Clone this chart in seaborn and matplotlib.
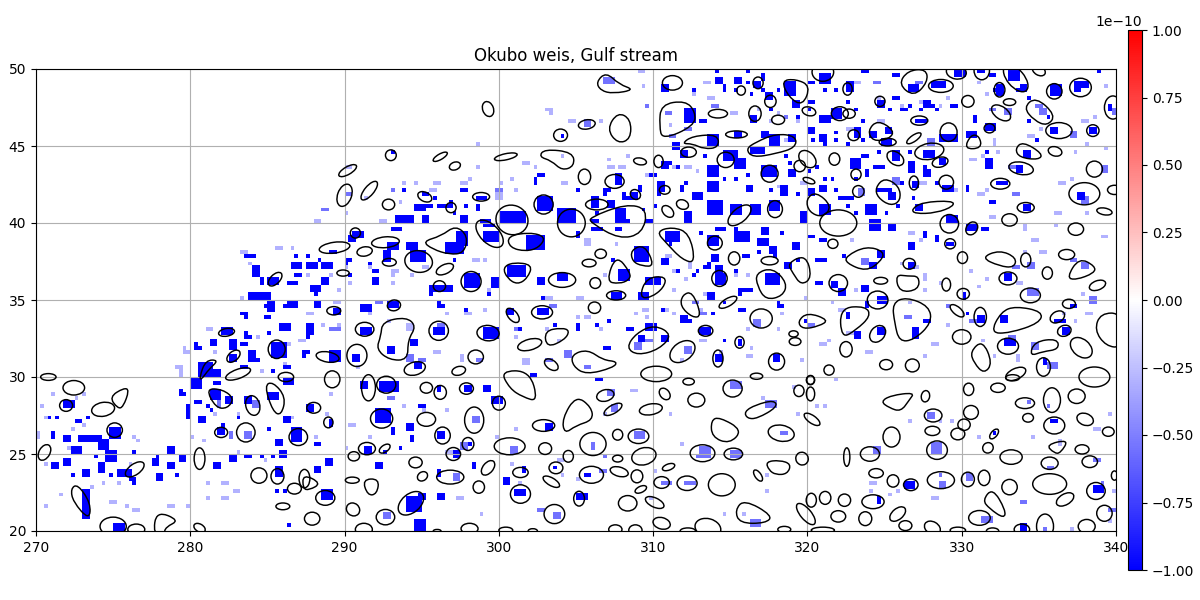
import numpy as np
import pandas as pd
import matplotlib
matplotlib.use("Agg")
import matplotlib.pyplot as plt
from matplotlib.patches import Ellipse, PathPatch
from matplotlib.path import Path
from matplotlib.transforms import Affine2D
import seaborn as sns

TITLE = "Okubo weis, Gulf stream"
LON_TICKS = [270, 280, 290, 300, 310, 320, 330, 340]
LAT_TICKS = [20, 25, 30, 35, 40, 45, 50]
LON_MIN, LON_MAX, LAT_MIN, LAT_MAX = 270, 340, 20, 50
CELLS_PER_DEGREE = 4
WEISS_SCALE = 1e-10

# Okubo-Weiss levels of the three classes of negative cells (units of 1e-10)
STRONG_LEVEL = -1.0
MEDIUM_LEVEL = -0.55
WEAK_LEVEL = -0.3

# Cell blocks: west edge, south edge, columns, rows
strong_blocks = [
    # Labrador side, 45N-50N
    (310.5,48.6,2,2),(314,49,2,2),(315.25,49,2,2),(314.6,48.6,1,2),(316,49.7,1,1),(317,49.3,1,2),(316.5,48.7,2,2),
    (318.5,48.2,3,4),(319,47.6,2,2),(320.7,49,3,3),(320,49,2,1),(320.1,47.8,2,1),(312,46.5,3,4),(316.25,46.6,2,2),
    (317.25,47.9,2,2),(313,46.4,2,1),(320,45.8,2,2),(320.75,45.3,2,2),(320.75,46.5,3,2),(321.6,46.8,3,3),
    (323.5,49.7,2,1),(325.5,49.6,2,1),(326.5,48.5,3,2),(328.1,48.7,4,2),(329.4,49.5,3,2),(331,49.7,2,1),(331.8,49.4,2,1),
    (333,49.2,3,3),(332.2,48.3,2,3),(333.8,48.4,2,2),(335.75,48.2,3,3),(337.2,48.4,2,3),(337.7,48.7,2,2),(322.5,48.4,2,3),
    (324.5,47.6,2,2),(325.5,47.9,2,1),(327.6,47.5,2,2),(326,47.3,2,1),(329.3,47.5,2,1),(326.9,46.5,3,1),(325,45.8,2,2),
    (324.1,45.5,2,2),(322.9,45.4,2,3),(328.5,45.3,5,2),(330.7,46.4,1,2),(331.5,45.9,3,2),(330.25,45.6,3,2),(324.75,45.1,3,2),
    (335.75,45.8,2,2),(338.25,45.7,2,2),(339.4,47.2,1,2),(292.9,44.5,1,1),(304,45.5,1,1),
    # 40N-45N
    (313.5,45,3,3),(311.25,44.7,2,2),(315.25,45.4,2,2),(317,45.5,2,2),(317.5,44.9,3,3),(316.25,44.5,4,2),(318.8,45.2,2,2),
    (314.4,43.9,4,3),(311.8,44.3,2,2),(310.6,43.6,2,2),(309.75,43,2,1),(313.5,43.1,3,3),(315.25,43.4,3,3),(317.1,42.9,4,3),
    (318.7,42.9,2,2),(313.5,42,3,3),(316,42.1,2,2),(318.2,41.8,2,3),(312.5,41.6,3,2),(310.3,42.1,2,3),(311.7,42.1,1,2),
    (309,41.9,1,2),(308,41.4,1,2),(306.75,41.7,1,2),(307,41.1,2,2),(306,41,2,3),(308.5,41.6,2,2),(307.6,40.3,3,3),
    (313.5,40.4,4,4),(316.25,40.4,3,3),(315,40.4,3,3),(317.5,40.7,3,3),(319.4,40,2,3),(320,41.8,2,2),(320.75,42,2,2),
    (320.75,40.5,3,3),(321.9,41.4,3,1),(307.6,42.4,2,3),(307.4,40,4,1),(306,40,2,1),(309.4,40,2,1),(312,40,2,3),
    (327.4,44.2,3,2),(325.5,43.9,2,3),(322.8,43.6,3,3),(323.5,44.3,2,1),(326.5,43.2,2,3),(324.25,43.4,3,1),(323.75,43,1,2),
    (327.5,43.1,2,2),(328.5,43.7,2,2),(326.7,42.3,2,2),(328.7,42.1,3,2),(324.6,42,4,1),(325.3,41.5,2,2),(331.5,43.5,2,3),
    (333.5,43.3,2,2),(334,44.3,2,2),(332.3,42.6,3,1),(326.9,40.8,2,2),(323.7,40.5,3,3),(334,40.7,2,2),(331.8,41.2,1,1),
    (337.4,41.6,2,2),(329,40,3,2),(330.2,42,1,2),
    (302.6,43,2,1),(302.25,42.4,1,2),(295,41.7,2,1),(297.4,41.9,2,1),(295.75,41.4,1,1),(298.5,41.6,3,1),(294.5,40.8,3,2),
    (295.25,40.9,1,1),(296,40.9,3,1),(296.75,41,1,2),(297.75,41,1,1),(298.6,40.7,1,1),(300,40,7,3),(302.5,40.75,4,4),
    (303.75,40,5,4),(293.25,40,5,2),(295,40,2,2),(297.5,40,2,2),(298.8,40,3,1),
    # 35N-40N
    (290.4,38.9,3,2),(290.2,38.7,2,2),(292.7,38.3,3,2),(294,38.2,3,2),(289,38,2,1),(292.6,37.5,2,3),(294.3,37.5,4,3),
    (290.1,37.3,1,2),(288.5,36.9,3,2),(287.5,36.9,3,2),(291.7,36.8,2,1),(296.6,38,5,3),(297.2,38.5,3,4),(299,39.7,3,1),
    (299,38.7,4,3),(301.7,38.3,5,4),(300.4,36.5,5,3),(295.5,35.6,6,2),(297.7,35.8,4,4),(299.5,35.7,2,3),(302.5,36,2,2),
    (303.8,36.2,3,2),(288.5,36,2,2),(287.8,35.6,3,2),(291.8,36,2,2),(292.9,39.5,3,1),
    (310.8,38.8,4,3),(306.1,39.5,3,1),(307.6,39.5,2,1),(314.1,39.5,3,1),(317,39.3,2,2),(315.25,38.7,4,3),(313.5,38.5,3,3),
    (316.75,38.6,3,2),(308.7,37.4,4,4),(305,39,1,2),(319,38.3,2,2),(320.1,39.1,2,1),(320.75,38.7,2,1),(313.75,37.6,2,2),
    (315.8,37.7,2,1),(317.5,37.9,2,2),(310.5,37.3,2,2),(318.6,37,2,2),(320.5,37.6,2,1),(307.7,36.2,3,3),(313.25,37,2,1),
    (314,36.4,2,3),(314,36,3,3),(317.25,36,4,3),(309.5,35.9,4,2),(309,35.1,3,2),(307.3,35.1,3,2),(321.4,35.8,2,2),
    (322,35.2,2,2),(313.5,35,2,2),(316.1,35.4,2,1),(315.6,35.2,1,2),(320.6,35.9,2,1),
    (324,39.4,3,3),(325.2,39.5,2,2),(330.25,39.4,3,2),(331.25,39.6,2,1),(328.2,38.7,1,2),(327.5,39.1,1,2),(326.5,38.3,2,2),
    (329,38.5,2,1),(324.5,37.8,2,2),(324,37,2,2),(326.5,37.1,2,2),(323.5,35.4,2,2),(332.7,36.3,2,2),(330,35.1,1,2),
    (283.5,37.7,3,1),(284,36.6,2,3),(284.5,35.9,1,2),(285.1,36,3,2),(286.3,36,3,1),(286.75,36.4,2,1),(286.5,37,3,2),
    (283.75,35,6,2),(285,34.2,2,3),(286.3,34.5,3,2),
    # 30N-35N
    (283.25,33.9,2,1),(284.8,33.8,2,1),(285.75,33.1,3,2),(282,32.7,3,2),(283.6,32.6,2,1),(282.4,31.7,2,3),(281.25,32,2,2),
    (283.2,32,2,1),(280.25,31.8,2,1),(285.2,31.2,4,4),(283.8,31,2,3),(282.5,31,2,2),(280.6,30,4,4),(283.2,30.6,2,1),
    (281.4,30,2,2),(286.1,30.5,2,1),(287.3,31.2,1,2),
    (288,34.5,2,2),(289.3,34,2,2),(287.5,32.8,2,3),(289,30.9,3,3),(290.4,31,2,2),(291,34.3,3,2),(292.8,34.6,3,2),
    (296.1,34.6,2,1),(291,32.8,3,2),(295.75,32.7,3,2),(298.9,32.4,4,3),(302.4,33.9,3,2),(300.6,34,2,2),(292.8,31.6,2,2),
    (294.3,32,2,2),(294.6,30.5,2,2),
    (311.7,33.4,2,2),(305,33,1,2),(309.4,32.9,3,2),(308.3,32.9,2,1),(310.5,32.2,2,2),(309,32.3,2,2),(313,32.7,3,2),
    (319.8,33.5,1,1),(313.9,30.9,2,2),(317.75,30.9,2,2),(315.5,32,1,2),(306.7,31.7,2,1),(315.6,34.2,2,1),(318,34.5,2,1),
    (324.5,34.8,3,2),(322.5,33.7,1,2),(323.7,34.4,1,2),(327.5,33.5,2,1),(326.8,32.5,2,3),(324.5,32.8,2,2),(323,32.4,2,2),
    (330.2,34,1,1),(331,33.6,2,2),(332.5,33.5,2,2),(335.9,33.6,3,1),(336.4,32.8,2,2),(332.8,31.9,3,2),(336.9,34.6,2,1),
    (335.2,30.8,1,2),
    # South of 30N
    (280,29.3,3,3),(281.6,29.6,2,1),(279.3,28.8,2,1),(285.9,29.6,3,2),(285.1,28.6,3,2),(281.3,28.4,3,3),(282.3,28.3,2,2),
    (283.6,28.3,2,2),(280.2,28.3,2,1),(279.7,27.2,1,4),(281,27.9,1,1),(271.7,27.9,3,2),(286,26.9,2,2),(280.6,26.9,2,2),
    (272.4,27.1,1,1),(274.75,26,3,3),(270.9,26,1,2),(271.7,25.7,2,2),(272.7,25.8,6,2),(274.1,25.3,3,3),(272.3,25,3,2),
    (274.5,24.5,3,3),(271.75,24.2,2,2),(277.6,24.2,2,2),(278.4,25,2,2),(271,24,2,2),(279.3,24.5,2,2),(278.6,24,2,2),
    (274,23.7,2,3),(273,23.5,2,2),(275.3,23.5,4,2),(276,23.2,2,1),(277.8,23.3,2,2),(273,20.7,2,8),(275,20,3,2),
    (285.4,25.6,2,2),(286.6,25.8,3,4),(282.5,24.5,2,2),(281.4,24,2,2),(285.8,24.8,2,2),(285.6,23.4,2,3),(281.8,26.2,2,2),
    (292.2,29,5,3),(291,29.3,2,2),(297.7,29,2,2),(299,29,2,2),(299.5,28.3,3,2),(296,28.9,1,2),(294.75,28,2,1),(287.6,27.7,2,2),
    (292,26.9,4,4),(288.9,26.8,1,2),(294,26.5,2,2),(293,26.3,1,2),(294.3,25.8,1,2),(296,25.9,2,2),(303,26.6,2,2),(288,25.5,2,1),
    (291.25,25,2,2),(292.5,25,1,1),(297.9,25.4,1,1),(293.6,25.2,1,1),(296.9,24.8,2,2),(288.8,24.3,2,2),(288,23.7,2,2),
    (292,24,2,2),(296.1,23.4,1,2),(301.5,23.7,1,2),(298.25,24,1,2),(296.1,22,2,2),(300.25,22.9,2,2),(301,22.2,3,2),
    (303.5,23.9,1,1),(288.5,21.9,3,3),(294,21.2,4,4),(294.8,22,2,2),(294.5,20.1,3,3),(302,29.9,2,1),
    (305,21.9,3,2),(306.25,29.8,2,1),(305.5,23.4,2,1),(326.3,22.7,3,2),(324.5,21.8,1,2),(335.75,26.9,2,1),(338.6,22.4,3,2),
    (333.8,20,2,2),(332,26.2,1,1),
]
# Isolated strong cells: lon, lat
strong_singles = [
    (314.07,49.8),(315.9,49.1),(317,48.4),(318,48.4),(315.15,48.5),(314.5,48.4),(312.55,48.4),(316.25,48.15),(317.55,47.2),
    (319.15,46.65),(319.9,47.2),(321.1,48.4),(321.65,48.4),(320.2,45.15),(321.75,45.8),(321.85,45.15),(321,44.9),(318.4,44.15),
    (318.8,43.7),(316,43),(314.4,42.85),(315.15,42.75),(313.2,44.25),(311.4,43.4),(310.95,43.7),(312,42.4),(310.3,41.8),(310.1,41.1),
    (313.85,40.6),(317.6,41.9),(319.35,41.75),(321.6,42.85),(321.1,42.85),(320.45,43.5),(320.1,43.3),(321.65,42),(305.1,41.9),
    (306.95,41.9),(308.15,41.45),(309.2,40.8),(306.3,40.5),
    (323.6,49.75),(322.95,47.2),(322.6,47.85),(323.5,46.45),(325.3,47.2),(326.4,47.4),(327.15,47.3),(327.9,47.6),(328.35,47.2),
    (330.7,46.65),(332,48.4),(333.5,48.4),(334.15,47.95),(334.15,46.55),(334.7,45.35),(335.45,46.65),(323.5,45.25),(322.6,44.9),
    (324.55,44.5),(323.8,44.25),(326.5,44.5),(327.6,43.4),(322.95,42.65),(323.7,43),(326.7,41.55),(326.05,42.4),(328.35,42.4),
    (328.85,41.9),(332,41.35),(325.65,40.9),(325.1,40.5),(331.55,44.5),(331.55,44.05),(331.45,43.6),(322.8,41.45),(322.6,40.9),
    (323.05,40.5),(338.7,49.7),
    (315.25,39.55),(313.1,39.25),(315.15,38.9),(318.2,39.15),(316.65,38.05),(317.75,37.75),(315.35,36.75),(310.95,38.4),(307.25,37.5),
    (312.55,36.45),(313.55,37.3),(311.5,36.85),(312.8,36.65),(319.35,37.4),(320.9,37.6),(322.3,37.75),(315.7,35.45),(316.35,35.45),
    (318,34.8),(318.3,34.6),(310.4,34.15),(312.15,33.5),(313.65,34.05),(314.5,34.7),(314.6,32.2),(305.1,33.3),(306.3,33.2),(306.95,33.6),
    (288.05,35.15),(288.25,37.6),(287.6,37.2),(291.4,37.2),(290.2,36.45),(295.4,35.15),(299.15,35.15),(296.05,34.8),(297.85,34.15),
    (303.4,33.3),(301.3,33.05),(287.6,32.55),(287.5,31.55),(302.75,34.9),(297,37.6),(290.3,37.6),(288.15,35.65),
    (284.7,34.4),(285.9,34.4),(286.65,34.5),(287.4,37.85),(286.65,37.85),(284.05,37.85),(283.6,32.65),(285.1,32.65),(285.35,30.35),
    (284.35,31.1),(287.3,31.35),(283.6,33.7),(280.35,31.9),
    (279.3,29),(271.3,27.35),(273.35,27.3),(270.65,27.2),(272.8,27.1),(273.65,24.8),(276.25,24.9),(277.8,24.8),(274.65,23.6),(279.05,23.6),
    (276.25,23.05),(272.15,23.4),(281.9,26.75),(281.35,27.85),(283,27.3),(284.9,26.5),(283.8,24.8),(283.5,24.8),(284.45,24.8),(285.35,24.8),
    (285.55,22.4),(285.9,22.4),(286.3,20.35),
    (293.65,41.9),(295.8,41.4),(295.4,40.9),(296.9,40.5),(297.65,40.9),(298.6,41.1),
]
medium_blocks = [
    (293,42.1,1,1),(290,41.7,2,1),(288.6,40.8,2,1),(306.8,49,3,2),(305.6,46.2,2,2),(311,45.5,2,1),(310.8,47,2,1),(312,46,2,1),
    (313.7,47.6,2,1),(318.6,46.8,1,1),(324.2,49,2,1),(327,49,2,1),(331.7,47.2,2,1),(332.7,46.9,2,2),(335,46.9,2,2),(334.7,47.5,2,1),
    (339.7,46.9,2,2),(337,45.6,2,2),(333,43.5,2,1),(339,43.3,2,2),(333.2,41.7,2,1),(337.7,41.3,2,2),(325.5,42.5,2,2),(323.2,41.7,2,2),
    (327.7,45.1,2,2),(294,31,2,2),(303,31,2,1),(304.3,31.3,2,2),(305.4,30.5,2,1),(299.7,42,2,1),(309.5,47.6,1,1),
    (291.9,34.7,2,1),(289,33,3,1),(296.1,33.2,2,1),(294.8,30.9,2,1),(303.3,34.6,2,1),(301.1,33,2,1),(298.6,31,2,1),
    (313,34,2,1),(312.6,34.8,2,1),(309.5,32.2,2,1),(308.8,31.8,2,2),(311.9,31.6,2,2),(316.6,33.3,2,2),(320,33.3,2,1),
    (323.6,37.3,2,2),(324,36.9,2,1),(328.9,34.5,1,1),(326.2,33.7,2,1),(330.6,33.4,2,1),(334.6,31.8,2,2),(333,32.5,2,1),
    (333.3,37.1,2,1),(334.2,37.1,2,2),(337,37.6,2,1),(337.8,37.1,2,2),(334.3,35.2,3,2),(338.2,34.7,2,2),(335.4,30.5,3,2),
    (292.7,28.5,2,1),(300.8,25,2,2),(298.2,27,2,2),(297.5,25.2,2,2),(302.4,21.2,2,1),(303.5,20.8,2,2),(292.5,20.7,2,2),
    (293.9,21.6,2,1),(297,23.3,2,2),(281.7,28,1,2),(284,27.9,2,2),(283.4,26.1,2,2),(282.4,26.1,1,2),
    (306.9,28.8,2,2),(307.3,27.8,2,2),(306.7,24.8,1,1),(308.8,26.1,3,2),(305.9,25.2,1,2),(306.6,23.7,2,1),(315,29.2,3,2),
    (317.3,28.1,3,2),(313,25,3,2),(312.7,24.8,4,1),(315,24.8,3,2),(311.9,23,3,1),(310.4,23.1,3,1),(316.3,20.2,3,2),(318.2,26.3,2,1),
    (324.2,25,2,2),(328,25,3,3),(327.8,27.2,2,2),(333.7,21.8,2,1),(331.2,20.6,3,2),(335.3,20.1,1,1),(336,26.9,1,1),(339,23,1,1),
    (335.5,28,1,1),(334.3,28.2,1,1),(330.3,23.2,2,2),(328.5,22.8,2,2),(328.6,23.5,1,1),(335.5,24.1,2,1),(338.4,24.4,2,1),(339.4,21.3,2,1),(331.3,20.6,3,1),
]
weak_blocks = [
    (302.95,47.3,2,1),(303.3,47.1,1,1),(304.5,46.6,2,1),(298.6,45,1,1),(298.6,43.6,1,1),(290,43.6,2,1),(301.6,43.8,2,1),
    (293.8,42.6,1,1),(294.6,42.4,1,1),(295.8,42.6,2,1),(297.6,42.6,2,1),(295.6,42.1,2,1),(298.1,42.8,1,1),(300.1,42.6,1,1),
    (300.8,42.8,1,1),(301.1,42.1,1,1),(299.7,41.4,2,2),(293.5,41.3,1,1),(289.9,40.6,1,1),(288,40,2,1),(292.3,40,2,1),(304.1,44.2,1,1),
    (304.1,42.6,2,1),(302.2,43.4,1,1),(291.2,41.6,1,1),(308.9,49.7,2,2),(309.2,48.8,1,1),(306.8,48.9,1,1),(306.4,46.6,1,1),
    (313.2,48.9,2,1),(312.5,48.3,1,1),(313.5,47.9,2,1),(310.9,46.2,1,1),(311.9,46.6,1,1),(315,47.1,2,1),(316.7,47.2,1,1),
    (318.6,45.3,1,1),(317.6,46.4,1,1),(318,47.1,1,1),(319.3,46.5,1,1),(320,46,1,1),(305,42,1,1),(307,43.9,1,1),(306.9,43.6,2,1),
    (307.8,43.6,2,1),(308.3,44.2,1,1),(309.5,43,1,1),(311.3,43.4,1,1),(311.9,43.5,2,1),(312.8,43.3,1,1),(318,42.3,1,1),(319.6,42.5,2,1),
    (323,49.1,2,1),(322.9,48.9,1,1),(324.5,48.1,1,1),(326,47.4,1,1),(327.3,47.7,1,1),(328.4,47.4,1,1),(329,47.9,1,1),(331,49,1,1),
    (331.5,48.2,1,1),(339.3,48.8,1,1),(338.5,46.8,1,1),(335,46.1,1,1),(337.7,46.5,2,1),(332,44.9,1,2),(332.3,44.5,1,1),(334.3,45.5,2,1),
    (338,44.9,1,1),(339.3,44.8,1,1),(337.2,44.5,1,1),(330.4,43.9,2,1),(331.2,44.3,1,1),(336.3,42.5,2,1),(337,42.7,1,1),(331.1,41.7,2,1),
    (331.5,42.1,1,1),(338,40.4,1,1),(336,40.4,2,1),(331.7,40.2,2,1),(327.2,42.5,2,1),(329.4,41.9,1,1),(322.6,45.9,2,1),(324.5,46.4,2,1),
    (283.3,37.9,2,1),(285.5,38.2,2,1),(286.6,38.2,1,1),(283.7,37.3,1,1),(283.2,35.1,1,1),(286,34.4,1,1),(281,33,2,1),(286.9,32.3,2,1),
    (284.3,32.5,1,1),(281.6,31.6,1,1),(279.5,31.4,1,2),(279.5,31.4,2,1),(279,30.5,2,1),(279.2,30,1,2),(284.5,30.2,1,1),(285.9,30.7,1,1),
    (289.3,34.7,2,1),(288.5,37.3,1,1),(287.5,36.6,1,1),(288.9,36.6,1,1),(289.6,35.6,1,1),(290.1,37,1,1),(290.2,36,1,1),(291.6,37.1,1,1),
    (293,36.6,1,1),(293.1,35.9,1,1),(292.9,36.8,2,1),(295,37,2,1),(294.2,36.6,1,1),(298.2,37.5,2,1),(299.1,37.6,1,1),(299.3,35.2,1,2),
    (303.1,34.9,2,1),(287.5,34,2,1),(288.4,33.3,1,1),(289.6,33.3,1,1),(291.4,34,1,1),(292.7,33.6,1,1),(293.9,32.9,2,2),(296.4,33.9,1,1),
    (297.7,34,2,1),(299,34.3,1,1),(303,33,1,1),(304.9,35.1,2,1),(305,33.8,1,1),(301.5,30.8,2,2),(303.7,32.2,1,1),(295.8,31.5,2,1),
    (297.5,31,1,2),(290.7,30.4,1,1),(286.2,31.9,1,1),(301,32.4,1,1),(305.6,38.4,2,2),(307.6,38.6,1,1),(310.8,37.8,2,1),(306.7,36.6,1,1),
    (312.2,37.1,1,2),(311.3,36.7,2,1),(312,36.3,1,1),(313.5,36.9,1,1),(315.3,36.4,1,2),(316,36.4,1,1),(316.2,35.4,1,1),(313.2,35.2,1,1),
    (311.2,35.6,1,1),(313,33.9,1,2),(311.2,34,1,1),(310.7,34.3,1,1),(308.7,34,1,1),(309.3,34.2,2,1),(309.5,33.7,1,1),(306.6,33.1,1,1),
    (305.4,33.7,2,1),(318.3,34.1,1,1),(318.1,33.1,1,1),(319.8,35,1,1),(321.4,34.8,1,1),(322,34.3,2,1),(322.5,32.7,2,1),(321.2,32.3,1,1),
    (320.7,32.1,2,1),(316,32.9,1,1),(316.2,31.7,1,1),(313,32.2,2,1),(314.3,31.6,1,1),(311.8,30.9,1,1),(316.1,31.3,2,1),(319.4,31.1,1,1),
    (326.6,39.3,2,1),(327.3,38.7,1,1),(322.7,38.7,1,1),(327.1,37,1,1),(325.9,37.2,1,1),(327.6,36.3,1,2),(328.4,36.1,1,1),(330.4,36.8,1,1),
    (331.4,36.2,1,1),(331.1,35.8,1,1),(333.4,35.9,2,1),(333.9,39.4,1,2),(334.4,38.8,2,1),(335,38.1,2,1),(334,37.9,1,1),(336,39.8,1,1),
    (339,38.9,2,1),(337.7,35.3,1,1),(338.1,34.1,2,1),(336.5,34,1,1),(337.2,33.6,1,1),(329,33.2,1,1),(328.1,31.9,2,1),(327.5,31.2,1,1),
    (323.7,31.6,2,1),(333.5,30.9,1,2),(332,31.3,1,1),(331.3,32.3,1,1),(326.6,34.7,1,1),(323,35.4,1,1),(327.5,35.6,1,1),
    (270.3,28,1,1),(270.9,28.7,1,1),(270.5,27.3,1,1),(272.4,28.5,1,1),(273,28.7,1,1),(272.3,26.6,1,1),(273.1,26.8,1,1),(270,26,1,2),
    (276.2,25.9,1,1),(276.4,25.7,1,1),(272,25.2,1,1),(270.5,24.3,1,1),(276,24.2,1,1),(274.2,22.9,1,1),(275.2,23,1,1),(273.5,22.8,1,1),
    (270.5,21.5,1,1),(271.4,22.2,1,1),(274.7,21.8,2,1),(275.7,21.6,1,1),(278.4,21.5,2,1),(276.2,21.3,2,1),(279.7,21.6,1,1),
    (280.9,22.9,1,1),(281.9,23.1,2,1),(282.1,22.1,2,1),(281,21.9,1,1),(282.8,22.5,2,1),(280,26.1,1,1),(280.7,25.8,1,1),(283,24.9,1,1),
    (284.8,24.6,1,1),(286.6,27.3,1,1),(283,27.6,1,1),(281.6,27.5,1,1),(289.1,28.7,1,1),(288.7,27.4,1,1),(287.9,25.9,1,1),(290,25.3,1,1),
    (290.3,26.7,2,1),(291.6,25.9,1,1),(293.7,27.9,1,1),(295,27.7,1,1),(296.5,27.8,1,1),(296.5,25.1,2,1),(299.8,26,1,1),(300.8,25.1,2,1),
    (301,26.5,1,1),(300.7,24.3,1,1),(304.1,23.5,1,1),(297.3,21.9,2,1),(298.7,20.9,1,1),(301.2,23,1,1),(303.7,24.6,2,1),(305,23.2,1,1),
    (306.8,27.4,1,1),(308.5,28.9,2,1),(311,27.4,1,1),(311.8,25.4,1,1),(319.3,27.6,1,1),(319,29.3,1,1),(320.6,27.9,1,1),(321,28,1,1),
    (321.8,29.7,1,1),(317,28.5,1,1),(315.7,21,1,1),(314.6,21.1,1,1),(317.3,23.5,1,1),(317.3,22.5,1,1),(309.7,22,1,1),(309.9,23.8,1,1),
    (328.4,27.1,1,1),(326.4,27.1,1,1),(329.3,27.1,1,1),(331,25.9,1,1),(334.5,26.1,1,1),(336.3,25.4,1,2),(339.5,27.5,1,1),(338.4,26.4,2,1),
    (325.7,22.6,1,1),(324,23,2,1),(323.9,22.5,1,1),(325.3,22.3,1,1),(328,22,2,1),(337,20,1,1),(339.7,22.6,1,1),(339.6,20.5,1,1),
]

# Closed eddy outlines as ellipses: lon, lat, semi-axis a, semi-axis b, rotation
eddy_ellipses = [
    (299.3,47.4,.35,.5,20),(293,44.4,.35,.35,0),(296.2,44.3,.52,.18,30),(297.15,43.7,.37,.25,20),(300.45,44.3,.75,.2,12),
    (290.2,43.4,.65,.25,30),(290,41.8,.75,.45,70),(291.6,42.1,.75,.3,50),(292.85,41.2,.4,.35,0),(295.2,41.7,.48,.3,-25),
    (296.9,41,.33,.33,0),(298.85,41.7,.55,.28,0),(304,45.7,.45,.4,0),(300.85,40.2,1.05,.95,-20),(302.9,41.2,.62,.62,0),(304.7,40,.9,.9,0),
    (290.7,39.35,.33,.33,0),(289.35,38.4,1,.35,8),(291.3,38.15,.5,.3,10),(292.65,38.75,.9,.35,5),(292.9,37.45,.45,.25,0),
    (294.8,37.5,.9,.7,-10),(296.5,37,.6,.3,25),(296.15,35.9,.4,.35,0),(298.2,36.2,.65,.65,0),(299.4,39.3,1.1,.6,-45),
    (304.1,36.3,.88,.48,0),(300.9,34,.55,.3,-50),(302.8,34.2,.68,.43,0),(289.3,34.3,.45,.27,0),(291.3,33.1,.6,.45,0),
    (296.1,33,.63,.62,0),(299.3,32.85,.72,.5,-5),(293.2,34.65,.43,.35,10),(288.9,31.3,.75,.33,-10),(290.8,31.4,.65,.72,0),
    (298.5,31.3,.5,.45,0),(302,32.1,.8,.35,15),(303.4,30.8,.5,.3,-35),(294.55,30.55,.7,.42,15),(297.4,30.4,.45,.28,15),(289.9,36.75,.4,.2,0),
    (289.2,29.85,.5,.55,0),(292.7,29.5,.62,.55,0),(291.55,29.3,.45,.85,0),
    (305.7,46.4,.55,.3,10),(311.25,49.1,.65,.47,0),(314.2,47.1,.62,.28,0),(315.7,48.6,.28,.3,0),(316.8,49.1,.33,.38,0),
    (317.6,47.9,.37,.4,0),(316.6,47.1,.4,.5,0),(318.1,46.7,.42,.3,0),(320.1,47.25,.45,.28,-15),(321,49.8,.7,.6,0),(322.1,47.1,.55,.45,0),
    (315.4,45.75,.7,.23,0),(312.3,44.6,.5,.33,0),(314.7,44.1,.55,.5,0),(310.35,44,.3,.4,0),(309.15,44,.42,.22,-10),(305.55,43,.4,.5,0),
    (307.5,42.7,.62,.45,0),(308.85,41.85,.35,.3,-40),(306.35,41.2,.73,.35,0),(310.75,42.15,.35,.28,0),(311.9,41.2,.4,.3,-20),
    (310.95,40.75,.45,.3,-45),(317.55,43.2,.55,.55,0),(317.9,40.9,.48,.55,0),(315.6,40.5,.9,.45,40),(320,44.15,.65,.45,-45),
    (319.5,43.7,.37,.37,0),(321.75,44.15,.35,.4,0),(320.1,42.75,.4,.17,-20),(322.6,48.7,.3,.4,0),
    (314,38.7,.48,.45,0),(315.25,37.7,.37,.43,0),(317.55,37.55,.55,.27,0),(314.3,36.4,.5,.52,0),(321.65,38.65,.33,.3,0),(322,36.1,.6,.55,0),
    (306.6,38,.37,.3,0),(305.85,37.4,.45,.25,0),(306.25,36.1,.35,.35,0),(307.6,35.3,.62,.3,0),(314.85,34.85,.65,.25,30),(306.2,34.5,.4,.37,0),
    (317,33.8,.72,.62,0),(313.4,33,.47,.35,0),(311.9,31.65,.9,.6,35),(315.6,32.25,.3,.38,0),(314.2,31.2,.33,.55,0),(318,31,.52,.55,0),
    (319.1,32.8,.3,.2,0),(319.2,32.3,.38,.25,0),(321.4,30.45,.33,.33,0),(310.2,30.2,1,.5,0),(322.5,31.8,.4,.5,0),(316.7,30.05,.4,.2,0),(320.2,29.8,.25,.3,0),
    (328.65,48.9,.8,.42,0),(329.65,49.8,.65,.45,-10),(331.3,49.9,.5,.6,0),(333.5,49.4,1.05,.55,-50),(335,49.9,.45,.3,-30),(332.45,48.65,.35,.47,0),
    (336,48.55,.5,.5,0),(337.7,48.8,.7,.6,0),(333.1,47.85,.4,.22,0),(324.7,47.9,.33,.33,0),(330.4,47.9,.4,.38,0),(332.55,47.15,.7,.4,-35),
    (339.8,47.5,.55,.75,0),(322.7,47.1,.4,.3,0),(327.25,46.65,.55,.3,0),(323,45.7,.37,.35,0),(325.2,45.25,.55,.25,0),(326.9,45.5,.55,.2,35),
    (329.15,45.9,.55,.6,0),(331.8,46.15,.35,.3,0),(336.3,46,.85,.52,0),(338.5,46,.4,.38,0),(336.05,44.65,.45,.3,-15),(327.9,44.65,.95,.52,10),
    (328.6,43.95,.52,.32,15),(325.7,44.2,.6,.4,-35),(333.85,43.55,.8,.4,-10),(338.6,43.5,.52,.52,0),(323.15,43.15,.33,.35,0),(326.9,42.6,.3,.45,0),
    (329,42.65,.47,.45,0),(332.5,42.55,.62,.35,0),(323.3,42.05,.37,.38,0),(337.95,41.9,1,.72,0),(339.9,42.15,.45,.3,0),(334.15,41,.55,.33,0),
    (339.25,40.75,.5,.22,-10),(333.1,40.2,.5,.4,0),(322,40,1.2,.85,0),(329.2,39.95,.6,.6,0),
    (330.65,39.65,.35,.45,-35),(337.4,39.6,.5,.4,0),(329.25,38.65,.35,.33,0),(326.6,37.35,.4,.35,0),(330.05,37.75,.33,.38,0),(334.15,37.6,.33,.45,0),
    (336.8,37.95,.52,.33,0),(335.55,36.75,.33,.4,0),(333,36.4,.58,.42,0),(324.75,36.25,.45,.22,0),(329,36,.28,.42,0),(338.8,35.95,.55,.3,20),
    (330.1,35.4,.4,.35,0),(334.45,35.3,.65,.48,0),(324.55,35,.67,.58,0),(336.95,34.75,.42,.3,0),(329.7,34.3,.55,.25,-40),(331.2,33.9,.4,.62,0),
    (336.2,33.9,.5,.35,30),(336.65,33,.45,.35,20),(324.55,32.8,.6,.45,50),(330,32.6,.6,.47,0),(333,32,.68,.52,0),(337.75,31.9,.8,.55,-40),
    (335.3,30.65,.45,.6,0),(325.1,30.8,.42,.33,0),(326.8,30.75,.45,.42,0),(333.5,30.2,.7,.35,25),(338.6,30,1,.65,0),
    (285.5,36.35,.55,.3,45),(282.35,32.9,.52,.25,10),(282.8,31.35,.5,.3,40),(285.6,31.8,.55,.6,0),(283.1,30.2,.85,.3,20),(286.2,30,.5,.3,0),(270.8,30,.5,.22,0),
    (272.45,29.3,.7,.47,0),(271.95,28.15,.42,.38,0),(274.35,27.9,.75,.45,10),(275.1,26.55,.5,.47,0),(270.55,25.1,.55,.35,60),(276.4,24,.7,.35,35),
    (275,20.3,.85,.6,0),(276.5,20.1,.55,.35,0),(280.6,20.2,.4,.25,-30),(284.05,28.15,.45,.65,15),(283.6,26.4,.6,.62,0),(282,26.4,.42,.33,0),
    (287,26.1,.6,.55,0),(280.6,24.7,.35,.7,0),(284.45,23.6,.52,.5,0),(285.65,23.55,.42,.5,0),(286.75,22.75,.45,.35,0),(287.4,23.4,.35,.6,0),(286,21.6,.45,.22,0),
    (288,28,.45,.35,0),(288.95,27.05,.3,.35,0),(292.4,27.3,.72,.62,0),(295.3,29.3,.4,.35,0),(296.2,29,.4,.45,0),(297.9,29.25,.45,.37,0),(300,28.3,.42,.45,0),
    (298.4,27.2,.62,.85,0),(295.3,27.25,.6,.45,0),(296.35,26.2,.5,.55,0),(298,25.65,.38,.42,0),(302.9,26.85,.72,.38,0),(300.7,25.5,1,.55,0),
    (291.45,25.35,.55,.4,0),(292.6,25.35,.4,.22,35),(290.6,24.85,.37,.3,0),(297.05,25,.47,.42,0),(294.6,24.45,.43,.35,0),(303,25.35,.42,.38,0),
    (304.5,24.85,.33,.38,0),(299.3,24.1,.55,.33,50),(295.05,23.55,.35,.28,35),(296.85,23.5,.88,.45,0),(298.7,22.85,.37,.4,0),(301.4,23.8,.5,.33,0),
    (303.7,24.1,.45,.38,0),(303.4,23.2,.6,.25,-30),(290.5,23.3,.45,.2,0),(288.75,22.15,.62,.48,0),(301.4,22.4,.65,.6,0),(294.3,21.8,.95,.6,40),
    (290.55,21.4,.45,.4,-40),(292.65,20.9,.6,.5,0),(287.9,20.8,.5,.42,0),(291.25,20.1,.55,.4,0),(303.6,21.1,.67,.62,0),(305.2,22.1,.35,.48,0),
    (298.1,20.15,.55,.35,0),(300.45,20.05,.45,.2,0),(302.2,20,.3,.15,0),(296,20,.25,.1,0),
    (306.9,28.8,.57,.37,15),(307.4,27.9,.65,.27,30),(309.85,27.9,.75,.35,10),(310.75,28.9,.42,.3,-50),(312.8,28.5,.55,.45,0),(312.3,29.7,.37,.22,0),
    (315.15,29.25,.62,.55,0),(318.3,26.35,.85,.52,-10),(319.45,29.1,.33,.37,0),(320.2,28.9,.27,.45,0),(320.2,29.8,.27,.28,0),(320.3,27.25,.6,.25,-35),
    (307.7,26.25,.33,.35,0),(309.05,26.15,.67,.47,0),(306.1,25.65,.85,.75,0),(309.4,24.85,.8,.55,15),(313.2,25.05,.8,.55,0),(315.2,25,.6,.38,0),
    (307.7,24.7,.33,.22,0),(311,24.15,.42,.2,20),(319.65,24.7,.4,.42,30),(306,23.65,.78,.55,0),(307.8,23.85,.6,.3,-15),(308.95,23.55,.38,.42,0),
    (316.8,23.6,.42,.2,-55),(312.2,23.1,.65,.47,0),(310.55,23.15,.5,.38,0),(314.45,23,.87,.72,0),(309.2,22.7,.4,.2,25),(308.35,21.8,.6,.5,0),
    (310.1,21.85,.65,.3,-25),(310.55,20.5,.57,.37,-15),(313.55,20.2,.85,.6,-15),(320.25,22,.33,.45,0),(321.15,22.15,.37,.42,0),(322.4,22,.4,.4,0),
    (322,20.95,.48,.37,0),(319.9,21.1,.85,.35,-50),(308.85,20.05,.43,.35,0),(307.55,20.1,.43,.3,0),(318.5,20.1,.42,.2,0),(321,20.05,.75,.2,0),(312.25,20,.5,.2,0),
    (327.65,28.75,.27,.37,-10),(328.15,27.5,.57,.42,0),(328.1,26.5,.48,.3,0),(325.45,26.1,.55,.65,0),(328.4,25.25,.67,.6,0),(324.05,25,.62,.47,0),(322.55,24.8,.2,.6,0),
    (324.45,23.75,.47,.3,0),(325.55,23.25,.38,.4,0),(326.7,23,.47,.38,0),(328.65,23.3,.88,.55,0),(324.25,21.9,.72,.45,0),(325.85,21.1,.6,.35,40),
    (323.75,20.8,.42,.45,0),(326.35,20.35,.42,.32,0),(328.1,20.2,.55,.4,-30),(329.75,20.05,.5,.2,0),(330.45,29.2,.33,.4,0),(332.35,29.3,.47,.3,0),
    (333.3,29.95,.45,.2,0),(330.6,27.7,.48,.45,0),(330.15,26.9,.4,.37,0),(329.75,26.3,.45,.38,0),(332.1,26.3,.38,.2,50),(331.7,25.4,.35,.33,40),
    (334.1,28.3,.62,.35,0),(335.85,28.5,.55,.8,0),(337.45,28.75,.55,.47,0),(334.3,27.35,.35,.28,0),(336,26.85,.68,.55,0),(338,27.25,.55,.38,-20),
    (339.5,26.45,.38,.3,0),(337.8,25.3,.45,.3,0),(333.2,24.8,.72,.47,0),(335.7,24.4,.55,.4,0),(338.3,24.5,.5,.38,0),(330.4,23.35,.42,.47,0),
    (331.45,23.45,.38,.5,0),(333.1,22.85,.5,.5,0),(335.7,23.05,1.1,.67,0),(338.7,22.6,.6,.55,0),(336.7,22.05,.62,.35,30),(339.25,21.15,.5,.52,0),
    (331.15,20.85,.7,.48,0),(333.9,20.1,.5,.35,0),(335.4,20.3,.55,.8,0),(338.1,20.3,.55,.45,0),(332,20,.4,.2,0),(339.9,23.6,.2,.3,0),
]

# Irregular eddy outlines: vertices of each rounded boundary as lon, lat pairs
eddy_outlines = [
    [(302.6,44.3),(302.95,44.8),(304.8,44.6),(304.9,43.7),(304.1,43.4),(303.4,44.05)],
    [(295.05,38.8),(296.25,39.15),(297.2,39.85),(298,39.15),(297.75,38.05),(296.8,37.95),(295.7,38.3)],
    [(300.55,39.15),(302,39.4),(303.05,39.1),(302.6,38.4),(301.75,38.15),(300.7,38.4)],
    [(300.25,37.1),(300.9,37.45),(302.2,37.3),(301.85,36.4),(301.2,36),(300.55,36.4)],
    [(292.45,33.6),(294,33.9),(294.65,33.3),(294.1,32.4),(294.1,31.1),(292.9,31.1),(292.05,31.8),(292.35,32.65)],
    [(302.95,33),(304.1,33.2),(304.6,33),(304.25,32.4),(303.1,31.9)],
    [(300.1,30.4),(302,30.4),(302.55,28.4),(301.55,28.7),(300.7,29.25)],
    [(306.3,49.15),(306.95,49.8),(307.8,49),(308.8,48.65),(307.4,48.4),(306.6,48.6)],
    [(307,46.1),(307.7,47.2),(308.55,46.75),(308.55,45.45),(307.7,45.15)],
    [(310.5,47.7),(312.1,47.95),(312.75,47.2),(312.65,46.3),(310.6,45.4),(310.4,46.3)],
    [(318.3,49.25),(319.25,49.35),(320.2,48.9),(319.7,47.6),(318.8,48.15)],
    [(311.85,45.15),(312.55,45.65),(314.2,45.75),(314.25,44.9),(313.3,44.8),(312.55,45.15)],
    [(316,44.8),(316.65,45.25),(317.95,45.8),(319.25,45.65),(319.25,44.9),(317.95,44.5),(316.45,44.25)],
    [(319.9,41.55),(320.55,42.05),(321.6,41.1),(321,40.35),(320.1,40.7)],
    [(305.85,40.35),(308.25,41.25),(309.65,40.9),(309.3,39.3),(307.8,38.95),(306,40)],
    [(310.2,39.45),(311.25,39.75),(312.35,39.35),(312.75,37.4),(311.9,37.6),(310.85,38.7)],
    [(308.55,38.25),(309.45,38.6),(310.1,37.2),(309.3,37.2),(308.65,37.5)],
    [(306.95,36.2),(307.6,37.95),(308.55,36.75),(308.45,36.3),(307.8,36.05)],
    [(309.1,35.15),(309.55,36.45),(310.85,36.55),(310.7,35.8),(309.85,35.15)],
    [(316.65,36.75),(317.75,37.1),(318.7,36.1),(318.4,35.25),(317.3,35),(316.75,35.9)],
    [(318.7,37.4),(319.9,37.95),(320.3,36.45),(319.6,35.95),(319.05,36.75)],
    [(311.9,35.35),(312.55,35.55),(313.15,33.95),(312.55,33.85),(311.75,34.6)],
    [(319.35,33.6),(320,34.2),(321.4,33.7),(320.75,33.3),(319.7,33.1)],
    [(308.25,31.9),(308.9,32.85),(310.1,33.4),(311.25,32.75),(310.4,31.8),(309,31.4)],
    [(304.7,31.45),(305.75,31.8),(306.75,31.1),(307.7,31),(307.4,30.6),(305.65,30.15),(304.8,30.7)],
    [(325.9,49),(326.5,49.9),(327.7,50),(327.8,49.15),(326.9,48.2)],
    [(334,47.5),(334.8,48.2),(336.1,47),(335.55,46.3),(334.7,46.65)],
    [(323.9,46),(324.55,46.7),(325.65,46),(325.3,45.45),(324.25,45.3)],
    [(330.15,44.8),(330.6,45.75),(331.15,45.65),(331.3,44.85)],
    [(333.45,44.8),(333.95,45.3),(335.25,44.5),(335,44.1),(333.75,44.25)],
    [(324.4,42.3),(325,42.95),(325.95,42.4),(326.05,41.45),(325.4,41.1),(324.55,41.65)],
    [(326.75,40.9),(327.45,41.35),(329.4,41.45),(329.5,41.1),(328.35,40.65),(326.95,40.6)],
    [(322.5,37.85),(323.8,38.5),(325,38.15),(324.75,37.5),(323.8,36.85),(322.5,37.4)],
    [(331.25,37.75),(332.45,38.25),(333.55,37.75),(333.4,37.1),(332.45,37.2)],
    [(336.8,36.45),(337.6,37.75),(338.65,37.2),(338.6,36.75),(337.4,36.3)],
    [(325.7,36.65),(326.5,36.55),(327.25,36.55),(327.2,35.65),(325.95,35.5)],
    [(325.5,34.8),(326.4,35.2),(327.9,34.6),(328.05,33.5),(326.9,32.4),(325.95,32.3),(325.65,33.5)],
    [(331.85,32.85),(332.55,34.25),(333.5,34.6),(335.25,34.25),(335.05,33.5),(333.1,32.85)],
    [(322.1,34.5),(323.8,34.6),(324.1,33.95),(323.15,33.05),(322.2,32.5)],
    [(338.6,33.05),(339,34.15),(340.4,34.15),(340.4,31.9),(339.35,32)],
    [(330.55,31.65),(331.35,32.4),(332,30.9),(331.45,30.2),(330.8,30.9)],
    [(334.4,31.35),(334.7,32.3),(336.2,32.5),(336.3,31.8),(335.25,31.65)],
    [(274.75,28.7),(275.7,29.3),(276.05,29.15),(275.65,28.05),(275.3,27.95)],
    [(272.25,22.75),(272.7,23.05),(273.55,21.8),(273.45,20.7),(272.4,21.9)],
    [(277.6,19.8),(277.8,21.3),(279.3,20.7),(278.4,20.25),(278.3,19.8)],
    [(281,29.25),(282.1,29.2),(282.85,28.6),(282.4,27.95),(281.65,28)],
    [(284.8,29.45),(285.35,29.7),(286.2,28.7),(285.9,27.5),(285.35,27.75)],
    [(280.6,30),(281,31.1),(281.85,31.1),(281.2,30.5),(280.7,29.8)],
    [(291.15,23.35),(292.25,23.4),(292.1,22.4),(291.5,22.3)],
    [(287.3,23.7),(288.5,23.1),(287.7,22.65),(287.3,22.75)],
    [(304.1,27.3),(305,28.8),(306,28.05),(306.1,27.2),(305,26.85),(304.25,26.3)],
    [(315.9,27.75),(316.65,28.2),(317.85,28.5),(318.05,28.05),(316.75,27.3),(316.1,27.3)],
    [(313.75,27.2),(314.3,27.4),(315.8,26.55),(314.95,25.65),(313.8,26.1)],
    [(317.3,24.5),(318.2,24.6),(318.95,24.35),(318.7,23.7),(317.95,23.65),(317.5,23.95)],
    [(315.3,21.35),(315.9,22.05),(317.75,21),(317.3,20.5),(315.6,20.5)],
    [(324.75,28.4),(325.4,28.8),(326.95,29),(326.6,28.5),(326.05,27.75),(325.3,28)],
    [(335.45,25.6),(336.95,25.95),(336.4,25.05),(336,25.05)],
    [(331.35,22),(332,22.8),(332.85,21.35),(332.75,20.8),(331.8,21.45)],
]


def fill_blocks(grid, blocks, level):
    """Write a class level into the lat/lon grid for each block of cells."""
    for lon, lat, ncols, nrows in blocks:
        col = int(round((lon - LON_MIN) * CELLS_PER_DEGREE))
        row = int(round((LAT_MAX - lat) * CELLS_PER_DEGREE)) - 1
        grid[max(row - nrows + 1, 0):row + 1, col:col + ncols] = level * WEISS_SCALE


def rounded_path(vertices):
    """Closed Bezier boundary that rounds the corners of an outline."""
    pts = np.asarray(vertices, dtype=float)
    mids = (pts + np.roll(pts, -1, axis=0)) / 2
    verts = [mids[-1]]
    codes = [Path.MOVETO]
    for pt, mid in zip(pts, mids):
        verts += [pt, mid]
        codes += [Path.CURVE3, Path.CURVE3]
    return Path(verts, codes)


n_rows = (LAT_MAX - LAT_MIN) * CELLS_PER_DEGREE
n_cols = (LON_MAX - LON_MIN) * CELLS_PER_DEGREE
okubo = np.full((n_rows, n_cols), np.nan)
fill_blocks(okubo, weak_blocks, WEAK_LEVEL)
fill_blocks(okubo, medium_blocks, MEDIUM_LEVEL)
fill_blocks(okubo, strong_blocks, STRONG_LEVEL)
fill_blocks(okubo, [(lon, lat, 1, 1) for lon, lat in strong_singles], STRONG_LEVEL)

lats = LAT_MAX - (np.arange(n_rows) + 0.5) / CELLS_PER_DEGREE
lons = LON_MIN + (np.arange(n_cols) + 0.5) / CELLS_PER_DEGREE
field = pd.DataFrame(okubo, index=lats, columns=lons)

fig = plt.figure(figsize=(12, 6), dpi=100)
ax = fig.add_axes([36 / 1200, 69 / 600, 1080 / 1200, 462 / 600])
cax = fig.add_axes([1128 / 1200, 30 / 600, 14 / 1200, 540 / 600])

sns.heatmap(field, cmap="bwr", vmin=-WEISS_SCALE, vmax=WEISS_SCALE, ax=ax, cbar_ax=cax,
            xticklabels=False, yticklabels=False)

for spine in ax.spines.values():
    spine.set_visible(True)
    spine.set_linewidth(0.8)
    spine.set_color("black")
    spine.set_zorder(5)
colorbar = ax.collections[0].colorbar
colorbar.outline.set_linewidth(0.8)
colorbar.outline.set_edgecolor("black")

ax.set_xticks([(v - LON_MIN) * CELLS_PER_DEGREE for v in LON_TICKS])
ax.set_xticklabels([str(v) for v in LON_TICKS], rotation=0)
ax.set_yticks([(LAT_MAX - v) * CELLS_PER_DEGREE for v in LAT_TICKS])
ax.set_yticklabels([str(v) for v in LAT_TICKS], rotation=0)
ax.tick_params(length=3.5, width=0.8)
ax.set_xlabel("")
ax.set_ylabel("")
ax.grid(True, color="#b0b0b0", linewidth=0.8)
ax.set_axisbelow(False)
ax.set_title(TITLE, fontsize=12)

# Outlines are given in lon/lat; this carries them onto the heatmap's cell grid
geo_to_cell = (Affine2D().translate(-LON_MIN, -LAT_MAX)
               .scale(CELLS_PER_DEGREE, -CELLS_PER_DEGREE) + ax.transData)
for lon, lat, a, b, angle in eddy_ellipses:
    ax.add_patch(Ellipse((lon, lat), 2 * a, 2 * b, angle=angle, fill=False, edgecolor="black",
                         linewidth=1.05, zorder=3, transform=geo_to_cell))
for vertices in eddy_outlines:
    ax.add_patch(PathPatch(rounded_path(vertices), fill=False, edgecolor="black",
                           linewidth=1.05, zorder=3, transform=geo_to_cell))
ax.set_xlim(0, n_cols)
ax.set_ylim(n_rows, 0)

fig.savefig("out.png", dpi=100)
